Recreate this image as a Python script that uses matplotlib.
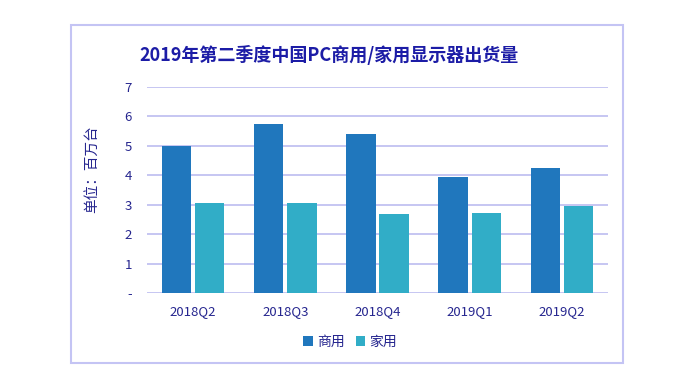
import matplotlib.pyplot as plt
import numpy as np
from matplotlib.patches import Rectangle

plt.rcParams['font.family'] = ['Noto Sans CJK SC', 'DejaVu Sans']

quarters = ['2018Q2', '2018Q3', '2018Q4', '2019Q1', '2019Q2']
commercial = [5.0, 5.73, 5.39, 3.94, 4.24]
household = [3.07, 3.07, 2.68, 2.71, 2.97]
ytick_labels = ['-', '1', '2', '3', '4', '5', '6', '7']

c_com = '#2077bd'
c_home = '#31adc7'
grid_c = '#bcbcf0'
text_c = '#26268f'

fig = plt.figure(figsize=(7, 3.89), dpi=100)
ax = fig.add_axes([0.21, 0.2468, 0.6586, 0.5296])

x = np.arange(len(quarters))
w = 0.318
ax.bar(x - 0.18, commercial, w, color=c_com, label='商用', zorder=3)
ax.bar(x + 0.18, household, w, color=c_home, label='家用', zorder=3)

ax.set_xlim(-0.5, len(quarters) - 0.5)
ax.set_ylim(0, 7)
ax.set_yticks(range(8))
ax.set_yticklabels(ytick_labels)
ax.set_xticks(x)
ax.set_xticklabels(quarters)
ax.tick_params(axis='y', length=0, pad=11, labelsize=9.5, labelcolor=text_c)
ax.tick_params(axis='x', length=0, pad=9, labelsize=9.5, labelcolor=text_c)
ax.grid(axis='y', color=grid_c, linewidth=1.2, zorder=0)
for s in ax.spines.values():
    s.set_visible(False)

ax.set_ylabel('单位：百万台', fontsize=10.5, color=text_c)
ax.yaxis.set_label_coords(-0.105, 0.6)

fig.text(329 / 700, 1 - 55 / 389, '2019年第二季度中国PC商用/家用显示器出货量',
         ha='center', va='center', fontsize=13, fontweight='bold', color='#1c1ca6')

fig.legend(loc='center', bbox_to_anchor=(350 / 700, 1 - 342 / 389), ncol=2,
           frameon=False, fontsize=10, handlelength=0.7, handleheight=0.7,
           handletextpad=0.3, columnspacing=0.8, labelcolor=text_c)

fig.patches.append(Rectangle((71 / 700, 1 - 363 / 389), 552 / 700, 338 / 389,
                             transform=fig.transFigure, fill=False,
                             edgecolor='#c4c4f4', linewidth=1.5))

fig.savefig('out.png', dpi=100)
